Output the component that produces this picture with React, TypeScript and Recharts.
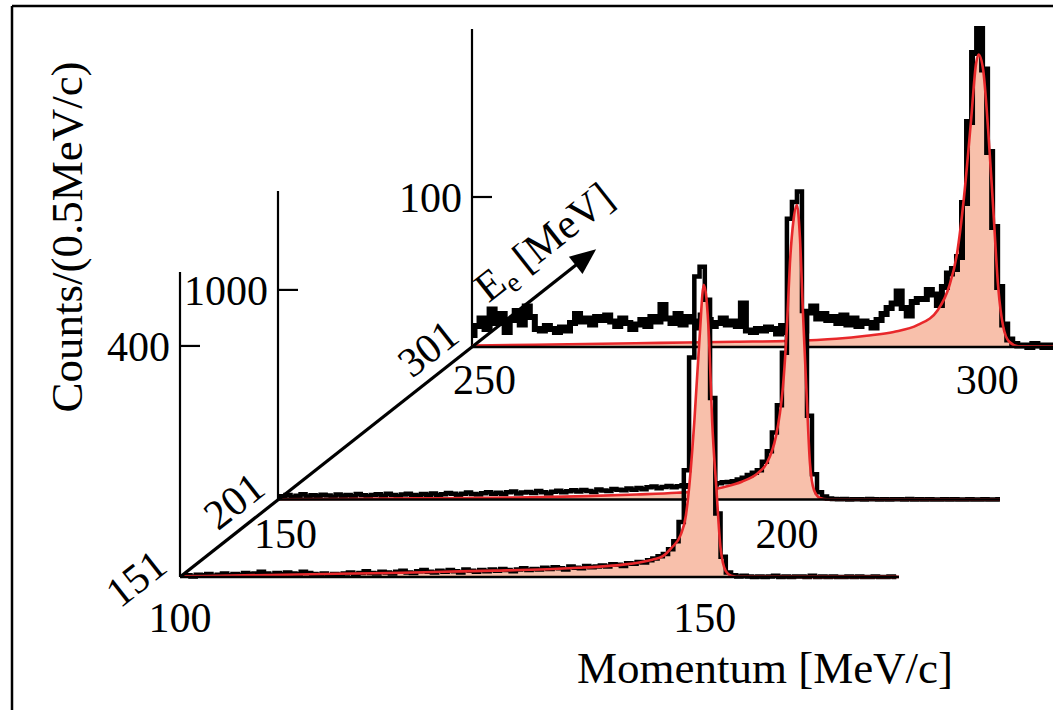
import React from "react";
import { ComposedChart, Line, Area, XAxis, YAxis, ReferenceLine } from "recharts";

const SERIF = "'Liberation Serif', 'Times New Roman', Times, serif";
const BIN = 0.5; // MeV/c per histogram bin
const W = 1053;
const H = 710;
const AXIS_W = 60; // room reserved by YAxis
const AXIS_H = 30; // room reserved by XAxis

// electron beam energies, front to back (MeV)
const beamEnergies = [151, 201, 301];

// ---- Ee = 151 MeV ----
const hist151Start = 100.25; // centre of first bin
const hist151 = [
  2, 3, 1, 4, 3, 5, 2, 4, 6, 3,
  5, 4, 7, 5, 6, 9, 6, 4, 7, 5,
  8, 6, 5, 9, 7, 5, 4, 6, 3, 5,
  4, 6, 8, 5, 7, 10, 7, 6, 9, 8,
  6, 9, 11, 8, 7, 10, 12, 9, 8, 11,
  9, 12, 10, 8, 13, 11, 9, 12, 10, 13,
  11, 14, 12, 10, 13, 15, 12, 14, 13, 16,
  14, 17, 15, 13, 18, 16, 15, 19, 17, 18,
  20, 18, 22, 21, 19, 24, 23, 26, 25, 29,
  32, 36, 40, 48, 62, 95, 185, 380, 520, 537,
  480, 310, 110, 35, 8, 3, 1, 2, 1, 0,
  1, 0, 1, 2, 0, 1, 0, 1, 1, 0,
  2, 0, 1, 0, 1, 0, 0, 1, 0, 1,
  0, 0, 1, 0, 0, 1, 0,
];
const fit151 = [
  [100, 1], [105, 2.5], [110, 4], [115, 5.5], [120, 7], [125, 9], [130, 11],
  [135, 13.5], [138, 16], [140, 18], [142, 21], [144, 26], [145, 30], [146, 36],
  [146.8, 50], [147.7, 73], [148.2, 107], [148.5, 154], [149, 269], [149.5, 414],
  [149.9, 506], [150.4, 414], [150.7, 269], [151.1, 154], [151.5, 50], [152, 10],
  [152.5, 2], [153, 0.5], [160, 0.3], [168.5, 0.3],
];
const xRange151 = [100, 168.5];
const xTicks151 = [100, 150];
const yTicks151 = [400];
const yAxisTop151 = 528;

// ---- Ee = 201 MeV ----
const hist201Start = 149.25;
const hist201 = [
  10, 15, 22, 12, 18, 25, 14, 20, 17, 23,
  19, 13, 24, 18, 21, 16, 26, 20, 15, 22,
  25, 18, 27, 21, 17, 24, 28, 22, 19, 26,
  23, 29, 20, 25, 31, 27, 22, 28, 33, 26,
  24, 30, 35, 28, 32, 26, 34, 38, 29, 33,
  36, 31, 40, 34, 29, 37, 42, 35, 39, 44,
  38, 45, 41, 36, 48, 43, 40, 50, 46, 44,
  52, 47, 55, 49, 58, 62, 54, 60, 65, 58,
  63, 68, 61, 72, 70, 66, 75, 72, 78, 82,
  84, 87, 95, 104, 117, 128, 140, 180, 230, 320,
  450, 700, 1340, 1420, 1470, 900, 400, 120, 35, 14,
  5, 2, 1, 2, 0, 1, 1, 0, 2, 1,
  0, 1, 0, 1, 1, 0, 2, 0, 1, 0,
  1, 0, 0, 1, 0, 1, 0, 0, 1, 0,
  0, 1, 0, 0, 1,
];
const fit201 = [
  [149.25, 1], [155, 2.5], [160, 4], [165, 6], [170, 8], [174.5, 10], [180, 16],
  [185, 24], [189, 32], [192.5, 45], [193.3, 55], [195.5, 85], [197.1, 126],
  [198, 174], [198.9, 300], [199.3, 411], [199.6, 536], [200, 822], [200.3, 1127],
  [200.65, 1330], [201, 1405], [201.3, 1250], [201.6, 890], [201.96, 506],
  [202.3, 172], [202.7, 45], [203.3, 7], [204, 1], [221.25, 0.3],
];
const xRange201 = [149.25, 221.25];
const xTicks201 = [150, 200];
const yTicks201 = [1000];
const yAxisTop201 = 1472;

// ---- Ee = 301 MeV ----
const hist301Start = 248.75;
const hist301 = [
  8, 14, 19, 12, 25, 16, 22, 10, 18, 24,
  15, 27, 20, 12, 11, 14, 12, 10, 13, 11,
  16, 22, 17, 19, 15, 20, 18, 21, 17, 14,
  19, 16, 12, 15, 18, 14, 20, 17, 28, 19,
  16, 22, 15, 20, 17, 13, 21, 18, 14, 16,
  19, 15, 17, 14, 29, 11, 10, 12, 11, 13,
  12, 9, 14, 10, 15, 13, 11, 23, 27, 19,
  22, 18, 20, 16, 21, 15, 19, 14, 17, 16,
  13, 18, 22, 26, 29, 37, 26, 21, 30, 32,
  32, 38, 35, 28, 40, 49, 52, 60, 96, 150,
  196, 212, 185, 130, 80, 40, 15, 5, 2, 1,
  1, 0, 2, 1, 0, 1, 0, 1,
];
const fit301 = [
  [248.75, 1], [255, 1.5], [260, 2], [265, 2.5], [270, 3], [275, 3.5], [280, 4],
  [285, 5.5], [288, 7.5], [290.7, 10], [293.1, 14.7], [295.1, 24.7], [296.2, 40],
  [297, 62], [297.7, 100], [298.4, 151], [298.9, 189], [299.15, 195], [299.6, 185],
  [300.1, 145], [300.6, 93], [301.1, 40], [301.6, 13.5], [302.2, 3.5], [303.1, 0.5],
  [307.25, 0.3],
];
const xRange301 = [248.75, 307.25];
const xTicks301 = [250, 300];
const yTicks301 = [100];
const yAxisTop301 = 212;

// pixel placement of each panel: origin, end of momentum axis, top of counts axis
const frames = [
  { left: 180, right: 899, base: 577, top: 272, drop: 55 },
  { left: 278, right: 1000, base: 499.5, top: 191, drop: 48 },
  { left: 472, right: 1060, base: 347, top: 29, drop: 47 },
];

const panels = [
  { start: hist151Start, hist: hist151, fit: fit151, xRange: xRange151, xTicks: xTicks151, yTicks: yTicks151, yAxisTop: yAxisTop151, stroke: 4.5 },
  { start: hist201Start, hist: hist201, fit: fit201, xRange: xRange201, xTicks: xTicks201, yTicks: yTicks201, yAxisTop: yAxisTop201, stroke: 4.5 },
  { start: hist301Start, hist: hist301, fit: fit301, xRange: xRange301, xTicks: xTicks301, yTicks: yTicks301, yAxisTop: yAxisTop301, stroke: 6 },
];

function MomentumTick({ x, y, payload, drop }: any) {
  return (
    <text x={x} y={y + drop} textAnchor="middle" fontFamily={SERIF} fontSize={42} fill="#000">
      {payload.value}
    </text>
  );
}

function CountTick({ x, y, payload }: any) {
  return (
    <g>
      <line x1={x} x2={x + 20} y1={y} y2={y} stroke="#000" strokeWidth={2.2} />
      <text x={x - 10} y={y} dy="0.35em" textAnchor="end" fontFamily={SERIF} fontSize={42} fill="#000">
        {payload.value}
      </text>
    </g>
  );
}

function Panel({ p, f }: any) {
  const rows = [
    ...p.hist.map((c: number, i: number) => ({ x: p.start + i * BIN, h: c })),
    ...p.fit.map(([x, v]: number[]) => ({ x, f: v })),
  ].sort((a, b) => a.x - b.x);

  // counts scale fixed by the labelled axis top; extra headroom so peaks are not clipped
  const pxPerCount = (f.base - f.top) / p.yAxisTop;
  const yMax = p.yAxisTop * 1.25;
  const top = f.base - yMax * pxPerCount;
  const width = Math.max(W, f.right + 10);

  return (
    <div style={{ position: "absolute", left: 0, top: 0 }}>
      <ComposedChart
        width={width}
        height={H}
        data={rows}
        margin={{ top, left: f.left - AXIS_W, right: width - f.right, bottom: H - f.base - AXIS_H }}
      >
        <XAxis
          type="number"
          dataKey="x"
          domain={p.xRange}
          ticks={p.xTicks}
          interval={0}
          height={AXIS_H}
          tickSize={0}
          tickMargin={0}
          tickLine={false}
          axisLine={{ stroke: "#000", strokeWidth: 2.5 }}
          tick={(t: any) => <MomentumTick {...t} drop={f.drop} />}
        />
        <YAxis
          type="number"
          domain={[0, yMax]}
          ticks={p.yTicks}
          interval={0}
          width={AXIS_W}
          tickSize={0}
          tickMargin={0}
          tickLine={false}
          axisLine={false}
          tick={(t: any) => <CountTick {...t} />}
        />
        <ReferenceLine
          segment={[{ x: p.xRange[0], y: 0 }, { x: p.xRange[0], y: p.yAxisTop }]}
          stroke="#000"
          strokeWidth={2.2}
          ifOverflow="visible"
        />
        {/* white underlay hides the panels further back */}
        <Area dataKey="f" type="monotone" stroke="none" fill="#fff" fillOpacity={1} connectNulls isAnimationActive={false} />
        <Line dataKey="h" type="step" stroke="#000" strokeWidth={p.stroke} dot={false} connectNulls isAnimationActive={false} />
        <Area dataKey="f" type="monotone" stroke="none" fill="#f49a78" fillOpacity={0.62} connectNulls isAnimationActive={false} />
        <Line dataKey="f" type="monotone" stroke="#e8282b" strokeWidth={2.6} dot={false} connectNulls isAnimationActive={false} />
      </ComposedChart>
    </div>
  );
}

function EnergyAxis() {
  const o = frames.map((f) => [f.left, f.base]);
  const dx = o[2][0] - o[0][0];
  const dy = o[2][1] - o[0][1];
  const len = Math.hypot(dx, dy);
  const ux = dx / len;
  const uy = dy / len;
  const nx = uy; // normal pointing up-left
  const ny = -ux;
  const ang = (Math.atan2(uy, ux) * 180) / Math.PI;

  const tip = [o[2][0] + ux * 158, o[2][1] + uy * 158];
  const headLen = 26;
  const half = 11;
  const hb = [tip[0] - ux * headLen, tip[1] - uy * headLen];

  const title = [o[2][0] + ux * 40 + nx * 24, o[2][1] + uy * 40 + ny * 24];

  return (
    <svg width={W} height={H} style={{ position: "absolute", left: 0, top: 0 }}>
      {/* figure frame */}
      <line x1={12} y1={6} x2={W} y2={6} stroke="#000" strokeWidth={2.5} />
      <line x1={12} y1={6} x2={12} y2={H} stroke="#000" strokeWidth={2.5} />

      <line x1={o[0][0]} y1={o[0][1]} x2={hb[0] + ux * 2} y2={hb[1] + uy * 2} stroke="#000" strokeWidth={3.2} />
      <polygon
        points={`${tip[0]},${tip[1]} ${hb[0] + nx * half},${hb[1] + ny * half} ${hb[0] - nx * half},${hb[1] - ny * half}`}
        fill="#000"
      />
      {beamEnergies.map((e, i) => {
        const ex = o[i][0] + nx * 12 - ux * 4;
        const ey = o[i][1] + ny * 12 - uy * 4;
        return (
          <text
            key={e}
            x={ex}
            y={ey}
            textAnchor="end"
            transform={`rotate(${ang} ${ex} ${ey})`}
            fontFamily={SERIF}
            fontSize={42}
            fill="#000"
          >
            {e}
          </text>
        );
      })}
      <text
        x={title[0]}
        y={title[1]}
        transform={`rotate(${ang} ${title[0]} ${title[1]})`}
        fontFamily={SERIF}
        fontSize={42}
        fill="#000"
      >
        E<tspan fontSize={28} dy={8}>e</tspan>
        <tspan dy={-8}> [MeV]</tspan>
      </text>

      <text
        x={82}
        y={237}
        transform="rotate(-90 82 237)"
        textAnchor="middle"
        fontFamily={SERIF}
        fontSize={45}
        fill="#000"
      >
        Counts/(0.5MeV/c)
      </text>
      <text x={765} y={683} textAnchor="middle" fontFamily={SERIF} fontSize={45} fill="#000">
        Momentum [MeV/c]
      </text>
    </svg>
  );
}

export default function App() {
  return (
    <div
      style={{
        position: "absolute",
        left: 0,
        top: 0,
        width: W,
        height: H,
        overflow: "hidden",
        background: "#fff",
      }}
    >
      {/* back to front */}
      {[2, 1, 0].map((i) => (
        <Panel key={i} p={panels[i]} f={frames[i]} />
      ))}
      <EnergyAxis />
    </div>
  );
}
